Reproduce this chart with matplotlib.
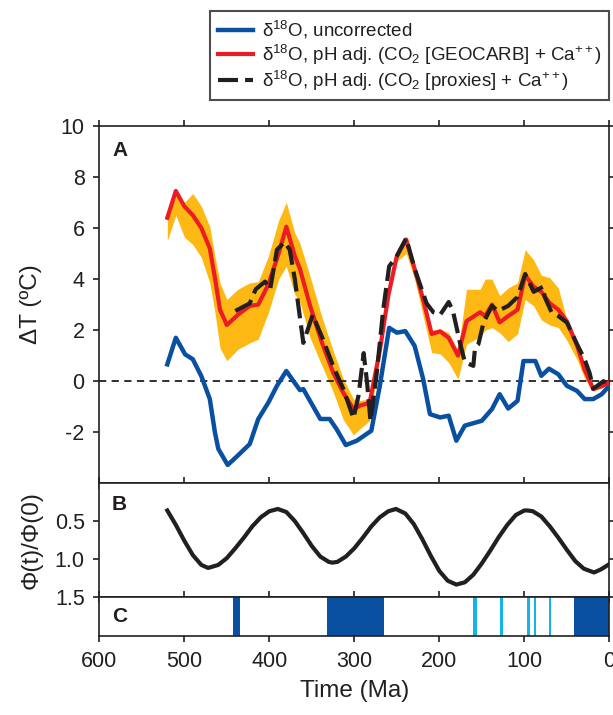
import numpy as np
import matplotlib.pyplot as plt

plt.rcParams['font.family'] = ['Liberation Sans', 'DejaVu Sans']
plt.rcParams['mathtext.fontset'] = 'custom'
plt.rcParams['mathtext.rm'] = 'Liberation Sans'
plt.rcParams['mathtext.it'] = 'Liberation Sans:italic'
plt.rcParams['mathtext.bf'] = 'Liberation Sans:bold'
plt.rcParams['axes.unicode_minus'] = False

INK = '#231f20'
BLUE = '#0a50a1'
RED = '#ed1c24'
GOLD = '#fdb813'
CYAN = '#14b4ea'

# --- panel A: uncorrected d18O temperature anomaly
age_unc = [520, 510, 499, 490, 480, 470, 464, 460, 449, 437, 423, 413, 401, 391, 380,
           364, 360, 340, 329, 321, 310, 297, 280, 270, 259, 250, 240, 229, 219, 211,
           199, 189, 180, 170, 150, 138, 129, 119, 108, 101, 87, 80, 71, 60, 50, 38,
           29, 19, 9, 0]
t_unc = [0.66, 1.70, 1.05, 0.86, 0.20, -0.70, -2.0, -2.65, -3.28, -2.91, -2.46, -1.48,
         -0.83, -0.18, 0.40, -0.35, -0.31, -1.48, -1.48, -1.87, -2.50, -2.33, -1.94,
         -0.18, 2.09, 1.90, 1.96, 1.38, 0.08, -1.29, -1.42, -1.35, -2.33, -1.74, -1.55,
         -1.09, -0.51, -1.07, -0.77, 0.79, 0.79, 0.21, 0.49, 0.27, -0.18, -0.38, -0.70,
         -0.70, -0.51, -0.18]

# --- pH adjusted (GEOCARB) with uncertainty band
age_geo = [520, 510, 500, 490, 480, 470, 464, 458, 450, 437, 423, 413, 401, 389, 380,
           370, 364, 352, 338, 325, 313, 301, 293, 282, 270, 260, 250, 239, 229, 219,
           209, 199, 189, 178, 168, 152, 146, 138, 129, 119, 108, 99, 89, 80, 70, 60,
           50, 38, 29, 19, 9, 0]
t_geo = [6.4, 7.45, 6.85, 6.5, 6.0, 5.2, 4.05, 2.8, 2.2, 2.6, 2.95, 3.0, 3.8, 5.0, 6.05,
         4.9, 4.4, 2.95, 1.5, 0.35, -0.45, -1.1, -0.95, -0.85, 1.2, 3.35, 4.9, 5.55, 4.4,
         3.2, 1.85, 1.95, 1.7, 1.0, 2.35, 2.7, 2.55, 3.0, 2.3, 2.55, 2.8, 4.15, 3.7, 3.5,
         3.05, 2.8, 2.35, 1.4, 0.45, -0.3, -0.2, -0.05]
geo_hi = [6.4, 7.4, 7.0, 7.35, 6.85, 6.05, 4.9, 3.85, 3.2, 3.6, 3.85, 3.9, 4.9, 6.3, 7.0,
          5.8, 5.4, 4.1, 2.5, 1.2, 0.1, -0.7, -0.75, -0.7, 1.3, 3.4, 5.0, 5.6, 4.5, 3.3,
          2.0, 2.05, 1.9, 1.2, 3.6, 3.6, 4.0, 4.0, 3.35, 3.65, 3.85, 5.15, 4.75, 4.15,
          4.05, 3.65, 2.4, 1.2, 0.45, -0.15, -0.15, 0.0]
geo_lo = [5.5, 6.5, 5.65, 5.35, 4.85, 3.85, 2.7, 1.3, 0.8, 1.25, 1.5, 1.65, 2.7, 4.0, 4.5,
          3.4, 3.1, 1.7, 0.6, -0.4, -1.5, -2.1, -1.85, -1.55, 1.0, 3.2, 4.7, 5.0, 4.0, 2.55,
          1.12, 1.07, 0.73, 0.08, 1.45, 1.75, 2.0, 2.1, 1.9, 1.55, 1.85, 3.2, 2.95, 2.4,
          2.2, 2.1, 1.6, 0.85, 0.1, -0.4, -0.25, -0.1]

# --- pH adjusted (proxies)
age_prx = [440, 423, 416, 405, 399, 391, 382, 376, 370, 360, 349, 337, 325, 313, 301,
           295, 289, 285, 281, 274, 266, 259, 250, 239, 229, 215, 207, 199, 189, 184,
           176, 170, 160, 158, 154, 148, 138, 131, 119, 108, 105, 99, 89, 78, 76, 68,
           60, 50, 38, 29, 23, 19, 7, 4]
t_prx = [2.75, 3.05, 3.6, 3.9, 3.6, 5.15, 5.45, 5.15, 4.0, 1.5, 2.6, 1.65, 0.6, -0.3,
         -1.45, -0.55, 1.1, -0.05, -1.55, 0.2, 2.8, 4.5, 4.9, 5.6, 4.4, 3.05, 2.7, 2.6,
         3.1, 2.75, 1.55, 0.75, 0.6, 1.3, 1.45, 2.3, 2.95, 2.75, 2.95, 3.3, 3.6, 4.2,
         3.5, 3.7, 3.3, 2.7, 2.55, 2.3, 1.45, 0.85, 0.3, -0.3, 0.0, -0.05]

# --- panel B: cosmic ray flux ratio
age_phi = [520, 510, 500, 490, 480, 472, 460, 450, 440, 430, 420, 410, 400, 390, 380,
           370, 360, 350, 340, 330, 326, 320, 310, 300, 290, 280, 270, 260, 251, 240,
           230, 220, 210, 200, 190, 180, 170, 160, 150, 140, 130, 120, 110, 100, 96,
           90, 80, 70, 60, 50, 40, 30, 18, 10, 0]
phi = [0.36, 0.55, 0.76, 0.95, 1.08, 1.12, 1.08, 0.99, 0.86, 0.72, 0.57, 0.45, 0.37,
       0.34, 0.38, 0.50, 0.66, 0.83, 0.97, 1.04, 1.05, 1.04, 0.97, 0.86, 0.72, 0.57,
       0.45, 0.37, 0.34, 0.40, 0.54, 0.74, 0.96, 1.16, 1.29, 1.34, 1.31, 1.21, 1.06,
       0.89, 0.71, 0.55, 0.42, 0.36, 0.36, 0.37, 0.44, 0.57, 0.72, 0.88, 1.03, 1.13,
       1.18, 1.14, 1.07]

# --- panel C: glaciation intervals (Ma)
ice_major = [(443, 435), (332, 265), (41, 0)]
ice_minor = [(160, 156), (129, 124.5), (97, 93.5), (88.5, 86), (71.5, 68.5)]

fig = plt.figure(figsize=(6.13, 7.15), dpi=100)
axA = fig.add_axes([0.162, 0.324, 0.832, 0.500])
axB = fig.add_axes([0.162, 0.1655, 0.832, 0.1586])
axC = fig.add_axes([0.162, 0.1105, 0.832, 0.055])

axA.fill_between(age_geo, geo_lo, geo_hi, color=GOLD, lw=0, zorder=1)
axA.axhline(0, color=INK, lw=1.3, dashes=(4, 3), zorder=2)
l1, = axA.plot(age_unc, t_unc, color=BLUE, lw=3.2, zorder=3,
               label='δ$^{18}$O, uncorrected')
l2, = axA.plot(age_geo, t_geo, color=RED, lw=3.0, zorder=4,
               label='δ$^{18}$O, pH adj. (CO$_2$ [GEOCARB] + Ca$^{++}$)')
l3, = axA.plot(age_prx, t_prx, color=INK, lw=3.0, dashes=(4.8, 1.7), zorder=5,
               label='δ$^{18}$O, pH adj. (CO$_2$ [proxies] + Ca$^{++}$)')
axA.set_ylim(-4, 10)
axA.set_yticks([-2, 0, 2, 4, 6, 8, 10])
axA.set_ylabel('ΔT (ºC)', fontsize=17.5, color=INK)
axA.yaxis.set_label_coords(-0.112, 0.5)
axA.text(0.025, 0.932, 'A', transform=axA.transAxes, fontsize=15,
         fontweight='bold', color=INK, va='center', ha='left')

axB.plot(age_phi, phi, color=INK, lw=3.0)
axB.set_ylim(1.5, 0)
axB.set_yticks([0.5, 1.0, 1.5])
axB.set_yticklabels(['0.5', '1.0', '1.5'])
axB.set_ylabel('Φ(t)/Φ(0)', fontsize=17.5, color=INK)
axB.yaxis.set_label_coords(-0.112, 0.5)
axB.text(0.025, 0.81, 'B', transform=axB.transAxes, fontsize=15,
         fontweight='bold', color=INK, va='center', ha='left')

for a, b in ice_major:
    axC.axvspan(b, a, color=BLUE, lw=0)
for a, b in ice_minor:
    axC.axvspan(b, a, color=CYAN, lw=0)
axC.set_yticks([])
axC.text(0.025, 0.5, 'C', transform=axC.transAxes, fontsize=15,
         fontweight='bold', color=INK, va='center', ha='left')
axC.set_xlabel('Time (Ma)', fontsize=17.5, color=INK)
axC.xaxis.set_label_coords(0.5, -1.13)

for ax in (axA, axB, axC):
    ax.set_xlim(600, 0)
    ax.set_xticks([600, 500, 400, 300, 200, 100, 0])
    for s in ax.spines.values():
        s.set_linewidth(1.2)
        s.set_color(INK)
    ax.tick_params(direction='out', length=4.5, width=1.2, colors=INK,
                   labelsize=15.5, pad=6, top=True, right=True)
    if ax is not axC:
        ax.tick_params(labelbottom=False)
axC.tick_params(right=False)

leg = fig.legend(handles=[l1, l2, l3], loc='upper left',
                 bbox_to_anchor=(0.343, 0.984), fontsize=13.5,
                 frameon=True, fancybox=False, edgecolor=INK,
                 handlelength=1.9, handletextpad=0.45, labelspacing=0.1,
                 borderpad=0.4, borderaxespad=0)
leg.get_frame().set_linewidth(1.5)
for t in leg.get_texts():
    t.set_color(INK)

plt.savefig('out.png', dpi=100)
